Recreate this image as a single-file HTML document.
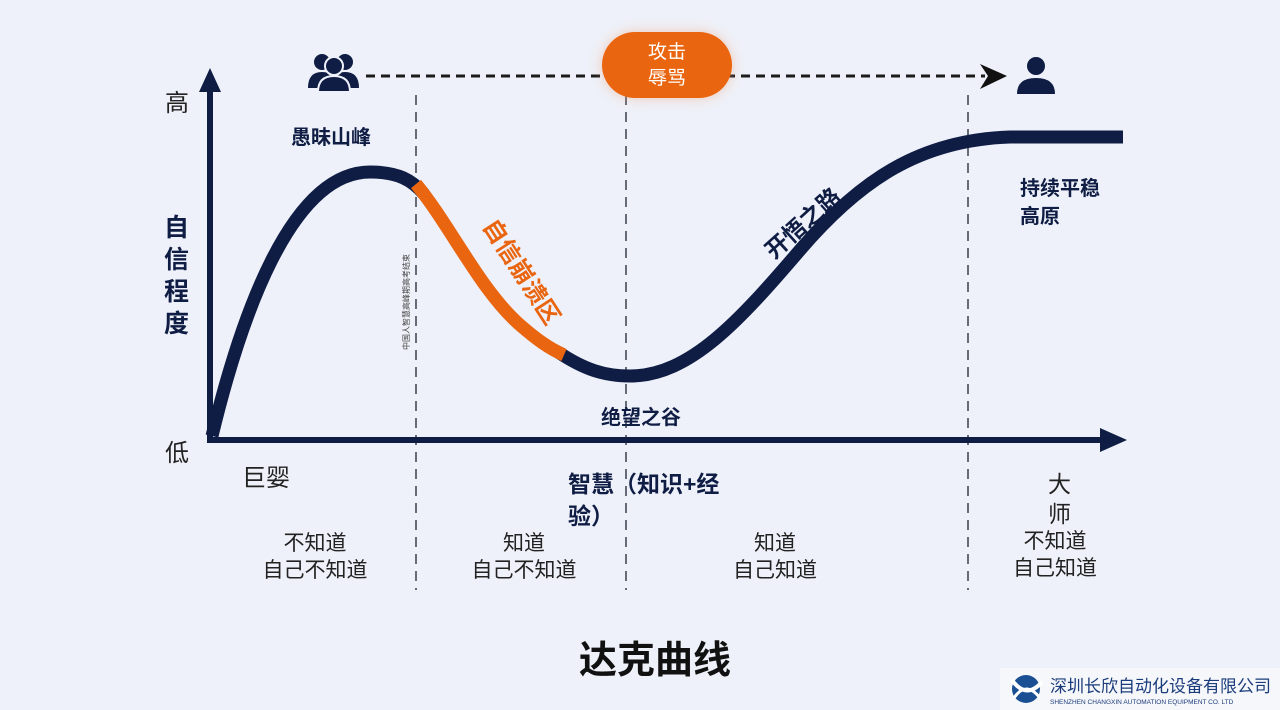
<!DOCTYPE html>
<html><head><meta charset="utf-8"><style>
body{margin:0;width:1280px;height:710px;background:#eef1f9;overflow:hidden;font-family:"Liberation Sans","Noto Sans CJK SC",sans-serif;}
</style></head><body>
<svg width="1280" height="710" xmlns="http://www.w3.org/2000/svg" style="position:absolute;left:0;top:0">
<defs><filter id="gl" x="-50%" y="-50%" width="200%" height="200%"><feGaussianBlur stdDeviation="6"/></filter></defs>
<g stroke="#666b78" stroke-width="2" stroke-dasharray="10,7">
<line x1="416" y1="95" x2="416" y2="590"/><line x1="626" y1="95" x2="626" y2="590"/><line x1="968" y1="95" x2="968" y2="590"/>
</g>
<line x1="366" y1="76" x2="985" y2="76" stroke="#1b1b1b" stroke-width="3" stroke-dasharray="9,6"/>
<polygon points="980,64 1007,76 980,89 988,76" fill="#111"/>
<rect x="602" y="32" width="130" height="66" rx="33" fill="#f3a070" opacity="0.5" filter="url(#gl)"/>
<rect x="602" y="32" width="130" height="66" rx="33" fill="#ea650f"/>
<text x="667" y="58" font-size="19" fill="#fff" text-anchor="middle">攻击</text>
<text x="667" y="84" font-size="19" fill="#fff" text-anchor="middle">辱骂</text>
<g fill="#0f1d44">
<circle cx="322" cy="62" r="8"/><path d="M308,88 Q308,72 322,72 Q336,72 336,88Z"/>
<circle cx="345" cy="62" r="8"/><path d="M331,88 Q331,72 345,72 Q359,72 359,88Z"/>
<circle cx="334" cy="66" r="9" stroke="#eef1f9" stroke-width="2"/><path d="M318,92 Q318,76 334,76 Q350,76 350,92Z" stroke="#eef1f9" stroke-width="2"/>
<circle cx="1036" cy="66" r="9"/><path d="M1017,94 Q1017,78 1036,78 Q1055,78 1055,94Z"/>
</g>
<line x1="210" y1="442" x2="210" y2="88" stroke="#0f1d44" stroke-width="6"/>
<polygon points="199,92 210,68 221,92" fill="#0f1d44"/>
<line x1="207" y1="440" x2="1105" y2="440" stroke="#0f1d44" stroke-width="6"/>
<polygon points="1100,428 1127,440 1100,452" fill="#0f1d44"/>
<path d="M212,436 C240,320 290,172 370,172 C398,172 412,180 424,194" fill="none" stroke="#0f1d44" stroke-width="13"/>
<path d="M558,352 C585,370 605,376 630,376 C690,376 740,320 800,250 C860,180 920,140 1010,137 L1123,137" fill="none" stroke="#0f1d44" stroke-width="13"/>
<path d="M416,184 C450,225 480,290 520,325 C535,338 548,348 564,355" fill="none" stroke="#ea650f" stroke-width="13"/>
<g font-family="Liberation Sans,Noto Sans CJK SC,sans-serif" fill="#0f1d44">
<text x="165" y="111" font-size="24" fill="#222">高</text>
<text x="165" y="461" font-size="24" fill="#222">低</text>
<text x="164" y="236" font-size="25" font-weight="bold">自</text>
<text x="164" y="268" font-size="25" font-weight="bold">信</text>
<text x="164" y="300" font-size="25" font-weight="bold">程</text>
<text x="164" y="332" font-size="25" font-weight="bold">度</text>
<text x="291" y="144" font-size="20" font-weight="bold">愚昧山峰</text>
<text x="601" y="424" font-size="20" font-weight="bold">绝望之谷</text>
<text x="1020" y="195" font-size="20" font-weight="bold">持续平稳</text>
<text x="1020" y="223" font-size="20" font-weight="bold">高原</text>
<text transform="translate(774,260) rotate(-42)" font-size="23" font-weight="bold">开悟之路</text>
<text transform="translate(482,226) rotate(57)" font-size="24" font-weight="bold" fill="#ea650f">自信崩溃区</text>
<text transform="translate(409,350) rotate(-90)" font-size="8" fill="#444">中国人智慧高峰期高考结束</text>
<text x="242" y="486" font-size="24" fill="#222">巨婴</text>
<text x="568" y="492" font-size="23" font-weight="bold">智慧（知识+经</text>
<text x="568" y="524" font-size="23" font-weight="bold">验）</text>
<text x="1048" y="492" font-size="23" fill="#222">大</text>
<text x="1048" y="522" font-size="23" fill="#222">师</text>
<g font-size="21" fill="#222" text-anchor="middle">
<text x="315" y="550">不知道</text><text x="315" y="577">自己不知道</text>
<text x="524" y="550">知道</text><text x="524" y="577">自己不知道</text>
<text x="775" y="550">知道</text><text x="775" y="577">自己知道</text>
<text x="1055" y="548">不知道</text><text x="1055" y="575">自己知道</text>
</g>
<text x="655" y="673" font-size="38" font-weight="bold" text-anchor="middle" fill="#111">达克曲线</text>
</g>
<rect x="1000" y="668" width="280" height="42" fill="#f6f7fb"/>
<circle cx="1026" cy="689" r="14" fill="#1a4f93"/>
<path d="M1012,680 Q1026,700 1042,682" stroke="#fff" stroke-width="4" fill="none"/>
<path d="M1014,698 Q1026,680 1040,698" stroke="#fff" stroke-width="3" fill="none"/>
<text x="1050" y="692" font-size="17" fill="#1a3c7a">深圳长欣自动化设备有限公司</text>
<text x="1050" y="704" font-size="6.5" fill="#1a3c7a">SHENZHEN CHANGXIN AUTOMATION EQUIPMENT CO. LTD</text>
</svg>
</body></html>
